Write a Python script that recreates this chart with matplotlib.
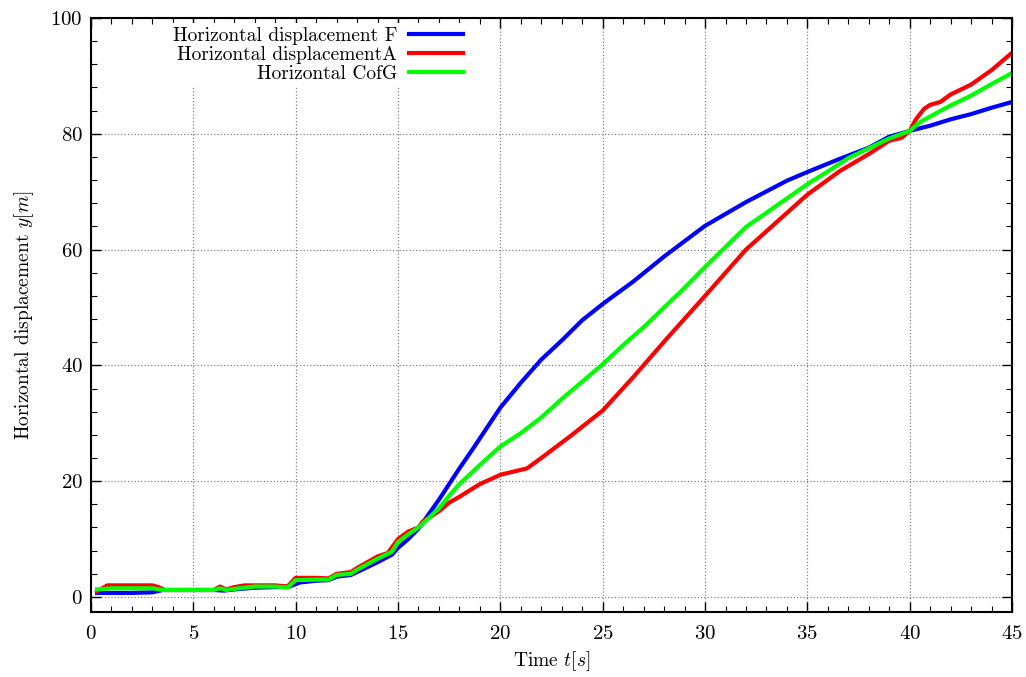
import matplotlib
matplotlib.use('Agg')
import matplotlib.pyplot as plt
from matplotlib.ticker import MultipleLocator

# Datos
t_f = [0.3, 1, 2, 3, 3.5, 5, 6, 6.5, 7, 8, 9, 9.7, 10.2, 11, 11.6, 12, 12.7, 13, 14, 14.7, 15,
       15.5, 16, 17, 17.5, 18, 18.7, 19, 20, 21, 22, 23, 24, 25, 26.5, 28, 30, 32, 34, 35, 36.6,
       38, 39, 40, 41, 42, 43, 44, 45]
y_f = [0.7, 0.7, 0.7, 0.8, 1.2, 1.2, 1.2, 1.1, 1.3, 1.6, 1.7, 1.8, 2.5, 2.8, 2.9, 3.5, 3.8, 4.3, 6.0, 7.3, 8.5,
       10.0, 11.8, 16.8, 19.5, 22.2, 25.8, 27.4, 32.7, 37.0, 41.0, 44.3, 47.8, 50.6, 54.5, 58.8, 64.1, 68.2, 71.9, 73.4, 75.7,
       77.6, 79.5, 80.5, 81.4, 82.5, 83.4, 84.5, 85.5]

t_a = [0.3, 0.8, 3, 3.3, 3.6, 6, 6.3, 6.6, 7, 7.5, 8, 9, 9.6, 10, 11, 11.6, 12, 12.7, 13, 14, 14.5, 15,
       15.5, 16, 16.2, 17, 17.5, 18, 19, 20, 20.7, 21.3, 22, 23.5, 25, 26.5, 28.1, 30, 32, 35, 36.6,
       38, 39, 39.6, 40, 40.3, 40.7, 41, 41.5, 42, 43, 44, 45]
y_a = [1.0, 2.0, 2.0, 1.7, 1.2, 1.2, 1.8, 1.3, 1.7, 2.0, 2.0, 2.0, 1.8, 3.3, 3.3, 3.2, 4.0, 4.3, 5.0, 7.0, 7.6, 10.0,
       11.3, 12.0, 13.0, 14.8, 16.3, 17.3, 19.5, 21.1, 21.7, 22.2, 24.0, 28.0, 32.2, 38.0, 44.5, 52.0, 60.0, 69.5, 73.6,
       76.5, 78.8, 79.3, 80.5, 82.5, 84.3, 85.0, 85.5, 86.8, 88.5, 91.0, 94.0]

t_g = [0.3, 1, 3, 3.5, 6, 6.3, 6.6, 7, 8, 9, 9.6, 10, 11, 11.6, 12, 12.7, 13, 14, 14.7, 15,
       15.5, 16, 17, 17.5, 18, 19, 20, 21, 22, 23, 25, 26, 27, 28, 29, 30, 32, 35, 36,
       37, 38, 39, 40, 40.5, 41, 42, 43, 44, 45]
y_g = [1.3, 1.5, 1.5, 1.2, 1.2, 1.5, 1.2, 1.4, 1.8, 1.8, 1.6, 2.9, 3.0, 3.0, 3.8, 4.0, 4.7, 6.6, 7.8, 9.5,
       10.8, 12.0, 15.3, 17.5, 19.5, 22.8, 26.0, 28.3, 31.0, 34.2, 40.2, 43.5, 46.6, 50.0, 53.4, 57.0, 63.9, 71.3, 73.5,
       75.8, 77.5, 79.2, 80.5, 82.0, 83.0, 84.9, 86.6, 88.6, 90.5]

etiquetas = ['Horizontal displacement F', 'Horizontal displacementA', 'Horizontal CofG']
colores = ['#0000ff', '#ff0000', '#00ff00']

plt.rcParams['font.family'] = 'serif'
plt.rcParams['font.serif'] = ['cmr10']
plt.rcParams['mathtext.fontset'] = 'cm'
plt.rcParams['axes.formatter.use_mathtext'] = True

fig = plt.figure(figsize=(10.26, 6.77), dpi=100)
ax = fig.add_axes([0.0887, 0.096, 0.8977, 0.8774])

for t, y, lab, c in zip([t_f, t_a, t_g], [y_f, y_a, y_g], etiquetas, colores):
    ax.plot(t, y, color=c, lw=3, label=lab, solid_joinstyle='round')

ax.set_xlim(0, 45)
ax.set_ylim(-2.6, 100)
ax.xaxis.set_major_locator(MultipleLocator(5))
ax.xaxis.set_minor_locator(MultipleLocator(1))
ax.yaxis.set_major_locator(MultipleLocator(20))
ax.yaxis.set_minor_locator(MultipleLocator(4))
ax.tick_params(which='both', direction='in', top=True, right=True, labelsize=15)
ax.tick_params(which='major', length=7, width=1)
ax.tick_params(which='minor', length=4, width=0.8)
ax.tick_params(axis='x', pad=9)
ax.tick_params(axis='y', pad=6)
for s in ax.spines.values():
    s.set_linewidth(1.5)

ax.grid(True, which='major', color='#808080', linestyle=':', lw=0.9)
ax.set_axisbelow(True)

ax.set_xlabel('Time $t[s]$', fontsize=14, labelpad=5)
ax.set_ylabel('Horizontal displacement $y[m]$', fontsize=14, labelpad=10)

leg = ax.legend(loc='upper right', bbox_to_anchor=(0.419, 1.008), markerfirst=False,
                fontsize=14, handlelength=2.8, labelspacing=0.05, borderpad=0.2,
                handletextpad=0.6, frameon=True, fancybox=False, framealpha=1)
leg.get_frame().set_edgecolor('none')
leg.get_frame().set_facecolor('white')
for txt in leg.get_texts():
    txt.set_ha('right')

fig.savefig('out.png', dpi=100)
plt.close()
